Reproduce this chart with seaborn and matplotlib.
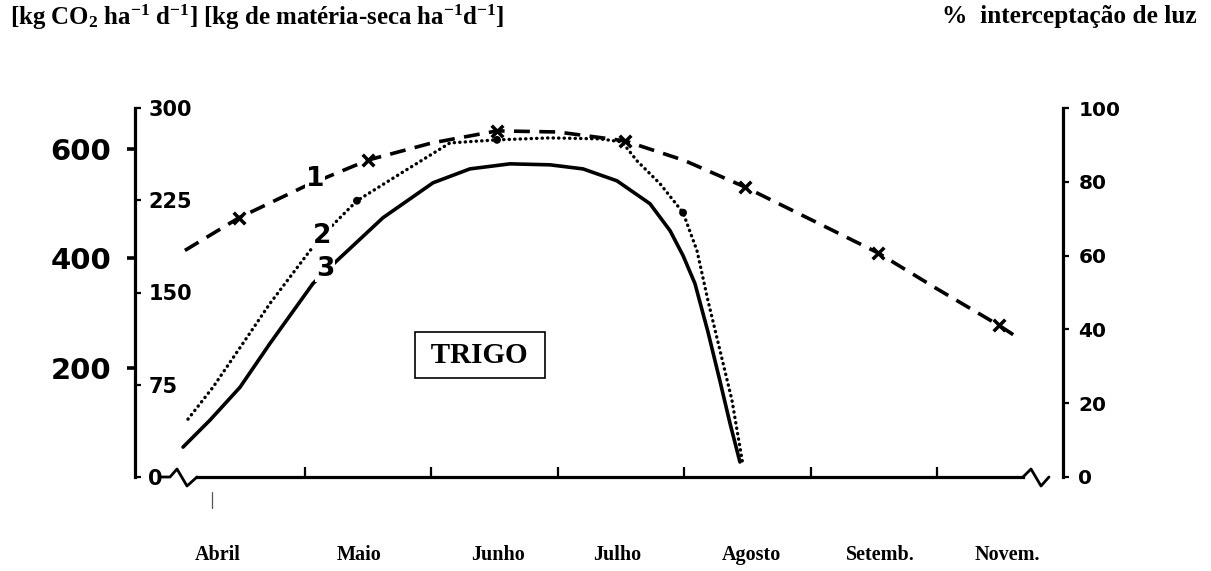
import numpy as np
import pandas as pd
import matplotlib
matplotlib.use("Agg")
import matplotlib.pyplot as plt
import seaborn as sns

# ---------------- data ----------------
# x in months: 0 = first axis tick (start of May), 1 = next tick, ...
months = ["Abril", "Maio", "Junho", "Julho", "Agosto", "Setemb.", "Novem."]
month_pos = [-0.69, 0.43, 1.53, 2.47, 3.53, 4.55, 5.56]
month_ticks = [0, 1, 2, 3, 4, 5]

# curve 1: % light interception (right axis)
c1_x = [-0.95, -0.52, 0.0, 0.50, 1.0, 1.52, 2.0, 2.53, 3.0, 3.48, 4.0, 4.53, 5.0, 5.49, 5.66]
c1_y = [61.4, 70.3, 78.8, 85.9, 90.5, 93.8, 93.5, 91.1, 85.8, 78.6, 69.8, 60.8, 51.0, 41.1, 37.3]
c1_mx = [-0.52, 0.50, 1.52, 2.53, 3.48, 4.53, 5.49]
c1_my = [70.3, 85.9, 93.8, 91.1, 78.6, 60.8, 41.1]

# curve 2: dotted (kg dry matter axis)
c2_x = [-0.926, -0.728, -0.459, -0.277, 0.040, 0.214, 0.411, 0.752, 1.147, 1.519,
        1.938, 2.334, 2.508, 2.627, 2.809, 2.991, 3.101, 3.188, 3.283, 3.378, 3.465]
c2_y = [47.0, 73.0, 113.5, 141.1, 184.1, 204.3, 224.6, 246.5, 271.6, 274.1,
        275.7, 274.9, 272.4, 257.0, 238.4, 214.9, 184.1, 143.5, 103.0, 62.4, 9.7]
c2_mx = [0.411, 1.519, 2.991]
c2_my = [224.6, 274.1, 214.9]

# curve 3: solid (kg dry matter axis)
c3_x = [-0.965, -0.752, -0.514, -0.277, 0.063, 0.253, 0.617, 1.013, 1.305, 1.622,
        1.938, 2.199, 2.468, 2.729, 2.888, 2.991, 3.085, 3.188, 3.283, 3.362, 3.441]
c3_y = [24.3, 46.2, 73.0, 108.6, 157.3, 175.9, 210.8, 239.2, 250.5, 254.6,
        253.8, 250.5, 240.8, 222.2, 200.3, 180.0, 157.3, 118.0, 78.0, 43.8, 12.2]

dm_ticks = [0, 75, 150, 225, 300]
co2_ticks = [200, 400, 600]
pct_ticks = [0, 20, 40, 60, 80, 100]
CO2_PER_DM = 2.25

# ---------------- style ----------------
sns.set_style("ticks")
plt.rcParams["font.family"] = ["DejaVu Sans"]
for k in ["axes.edgecolor", "text.color", "xtick.color", "ytick.color",
          "axes.labelcolor"]:
    plt.rcParams[k] = "black"
plt.rcParams["mathtext.fontset"] = "custom"
plt.rcParams["mathtext.rm"] = "Liberation Serif:bold"
plt.rcParams["mathtext.it"] = "Liberation Serif:bold"
plt.rcParams["mathtext.bf"] = "Liberation Serif:bold"
plt.rcParams["mathtext.default"] = "rm"

W, H = 1211, 571
fig = plt.figure(figsize=(W / 100, H / 100), dpi=100)
L, R, B, T = 135, 1063, 477, 108
ax = fig.add_axes([L / W, (H - B) / H, (R - L) / W, (B - T) / H])
ax.set_xlim(-1.345, 5.997)
ax.set_ylim(0, 300)
ax2 = ax.twinx()
ax2.set_ylim(0, 100)

df1 = pd.DataFrame({"x": c1_x, "y": c1_y})
df2 = pd.DataFrame({"x": c2_x, "y": c2_y})
df3 = pd.DataFrame({"x": c3_x, "y": c3_y})

sns.lineplot(data=df3, x="x", y="y", ax=ax, color="black", lw=2.6,
             sort=False, estimator=None)
ax.lines[-1].set_solid_capstyle("round")
ax.lines[-1].set_solid_joinstyle("round")
sns.lineplot(data=df2, x="x", y="y", ax=ax, color="black", lw=2.4,
             linestyle=(0, (0.1, 1.55)), sort=False, estimator=None)
ax.lines[-1].set_dash_capstyle("round")
sns.scatterplot(x=c2_mx, y=c2_my, ax=ax, color="black", s=32, marker="o",
                edgecolor="none", zorder=3)

sns.lineplot(data=df1, x="x", y="y", ax=ax2, color="black", lw=2.6,
             linestyle=(0, (4.4, 2.6)), sort=False, estimator=None)
sns.scatterplot(x=c1_mx, y=c1_my, ax=ax2, color="black", s=70, marker="x",
                linewidth=2.5, zorder=3)

# curve labels
lab_kw = dict(fontsize=19, fontweight="bold", ha="center", va="center",
              bbox=dict(facecolor="white", edgecolor="none", pad=0.5), zorder=5)
ax2.text(0.079, 80.8, "1", **lab_kw)
ax.text(0.134, 196.2, "2", **lab_kw)
ax.text(0.158, 169.5, "3", **lab_kw)

ax.text(1.384, 98.9, " TRIGO ", fontsize=21, fontweight="bold",
        family="Liberation Serif", ha="center", va="center", zorder=6,
        bbox=dict(boxstyle="square,pad=0.33", facecolor="white",
                  edgecolor="black", lw=1.2))

# ---------------- axes ----------------
for s in ["top", "right"]:
    ax.spines[s].set_visible(False)
for s in ["top", "left", "bottom"]:
    ax2.spines[s].set_visible(False)
ax.spines["left"].set_linewidth(2.3)
ax.spines["bottom"].set_linewidth(2.3)
ax2.spines["right"].set_linewidth(2.3)
ax.spines["bottom"].set_bounds(-0.854, 5.68)

ax.set_xticks(month_ticks)
ax.tick_params(axis="x", which="major", direction="in", length=7, width=1.6,
               labelbottom=False)
ax.set_xticks(month_pos, minor=True)
ax.set_xticklabels(months, minor=True)
ax.tick_params(axis="x", which="minor", length=0, pad=49)
for t in ax.get_xticklabels(minor=True):
    t.set_fontfamily("Liberation Serif")
    t.set_fontweight("bold")
    t.set_fontsize(14.5)

ax.set_yticks(dm_ticks)
ax.set_yticklabels([str(v) for v in dm_ticks])
ax.tick_params(axis="y", direction="in", length=4, width=1.6, pad=-9.5,
               labelsize=15)
for t in ax.get_yticklabels():
    t.set_ha("left")
    t.set_fontweight("bold")

sec = ax.secondary_yaxis("left", functions=(lambda y: y * CO2_PER_DM,
                                             lambda y: y / CO2_PER_DM))
sec.set_yticks(co2_ticks)
sec.tick_params(direction="out", length=6, width=2.6, pad=11, labelsize=21)
sec.spines["left"].set_visible(False)
for t in sec.get_yticklabels():
    t.set_fontweight("bold")

ax2.set_yticks(pct_ticks)
ax2.tick_params(axis="y", direction="out", length=4, width=1.6, pad=7,
                labelsize=14.5)
for t in ax2.get_yticklabels():
    t.set_fontweight("bold")

ax.set_xlabel("")
ax.set_ylabel("")
ax2.set_ylabel("")

# axis break marks and stray scan mark (decoration, axes-fraction units)
def px2ax(px, py):
    return (px - L) / (R - L), (B - py) / (B - T)

lb = [px2ax(*p) for p in [(160, 477), (170, 477), (177, 469), (187, 486), (197, 477)]]
rb = [px2ax(*p) for p in [(1023, 477), (1031, 469), (1041, 486), (1049, 477)]]
for pts in (lb, rb):
    xs, ys = zip(*pts)
    ax.plot(xs, ys, transform=ax.transAxes, color="black", lw=2.0,
            clip_on=False, solid_capstyle="round", solid_joinstyle="round")
mk = [px2ax(*p) for p in [(212, 492), (212, 508)]]
xs, ys = zip(*mk)
ax.plot(xs, ys, transform=ax.transAxes, color="#555555", lw=0.9, clip_on=False)

# ---------------- header texts ----------------
fig.text(10 / W, 1 - 17 / H,
         r"[kg CO$_2$ ha$^{-1}$ d$^{-1}$] [kg de matéria-seca ha$^{-1}$d$^{-1}$]",
         ha="left", va="center", fontsize=17.9, fontweight="bold",
         family="Liberation Serif")
fig.text(1197 / W, 1 - 17 / H, "%  interceptação de luz",
         ha="right", va="center", fontsize=18.3, fontweight="bold",
         family="Liberation Serif")

fig.savefig("out.png", dpi=100, facecolor="white")
